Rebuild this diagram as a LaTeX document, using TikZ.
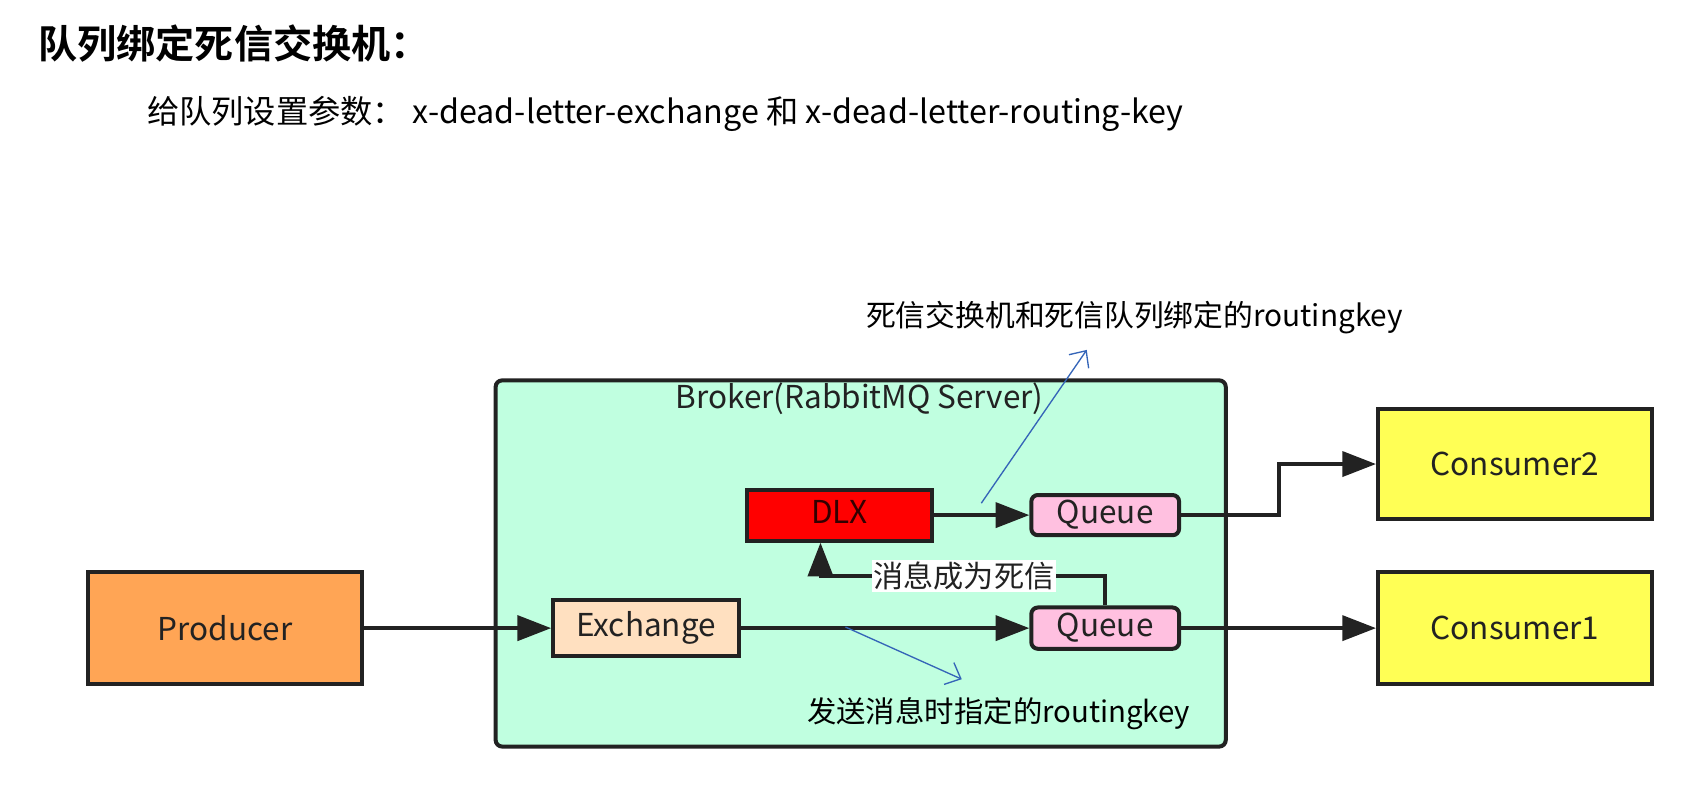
\documentclass[tikz,border=0pt]{standalone}
\usepackage{fontspec}
\setmainfont{Noto Sans CJK SC}[BoldFont={Noto Sans CJK SC Bold}]
\usetikzlibrary{arrows.meta}
\definecolor{mint}{HTML}{C0FFE0}
\definecolor{linec}{HTML}{222222}
\definecolor{qpink}{HTML}{FFC0E0}
\definecolor{peach}{HTML}{FFE0C0}
\definecolor{orng}{HTML}{FFA555}
\definecolor{yell}{HTML}{FFFF55}
\definecolor{dlxred}{HTML}{FF0000}
\definecolor{annblue}{HTML}{3565B8}
\definecolor{txtc}{HTML}{222222}
\tikzset{
  box/.style={draw=linec, line width=2.1pt, inner sep=0pt, text=txtc, font=\fontsize{16.5}{19}\selectfont},
  arr/.style={draw=linec, line width=2pt, -{Triangle[length=0.62cm,width=0.46cm]}},
  ann/.style={draw=annblue, line width=0.7pt, -{Straight Barb[length=0.24cm,width=0.44cm]}},
  anntext/.style={text=black, inner sep=0pt}
}
\begin{document}
\begin{tikzpicture}[x=0.02cm,y=-0.02cm]
\useasboundingbox (0,0) rectangle (1568,729);
% headings
\node[anchor=west, inner sep=0pt, font=\fontsize{20.5}{24}\selectfont\bfseries] (title) at (35,40) {队列绑定死信交换机：};
\node[anchor=west, inner sep=0pt, font=\fontsize{16.9}{20}\selectfont] (sub) at (135,105) {给队列设置参数： x-dead-letter-exchange 和 x-dead-letter-routing-key};
% broker
\node[box, fill=mint, rounded corners=0.12cm, minimum width=13.44cm, minimum height=6.74cm] (broker) at (792,518.5) {};
\node[anchor=center, inner sep=0pt, text=txtc, font=\fontsize{16.5}{19}\selectfont] (blabel) at (791,367) {Broker(RabbitMQ Server)};
% nodes
\node[box, fill=dlxred, text=black!80!red, minimum width=3.42cm, minimum height=0.94cm] (dlx) at (772.5,474) {\raisebox{0.1cm}{DLX}};
\node[box, fill=qpink, rounded corners=0.12cm, minimum width=2.72cm, minimum height=0.74cm] (q1) at (1017,474) {Queue};
\node[box, fill=qpink, rounded corners=0.12cm, minimum width=2.72cm, minimum height=0.76cm] (q2) at (1017,578) {Queue};
\node[box, fill=peach, minimum width=3.42cm, minimum height=1.04cm] (ex) at (594.5,578) {\raisebox{0.08cm}{Exchange}};
\node[box, fill=orng, minimum width=5.04cm, minimum height=2.06cm] (prod) at (207,578) {Producer};
\node[box, fill=yell, minimum width=5.04cm, minimum height=2.04cm] (c2) at (1394,427) {Consumer2};
\node[box, fill=yell, minimum width=5.04cm, minimum height=2.06cm] (c1) at (1394,578) {Consumer1};
% connectors
\draw[arr] (prod.east) -- (ex.west);
\draw[arr] (ex.east) -- (q2.west);
\draw[arr] (q2.east) -- (c1.west);
\draw[arr] (dlx.east) -- (q1.west);
\coordinate (mid2) at (1177,474);
\draw[arr] (q1.east) -- (mid2) |- (c2.west);
\coordinate (bend) at (755,530);
\draw[arr] (q2.north) |- (bend) -- (bend |- dlx.south);
\node[fill=white, inner sep=1pt, text=txtc, font=\fontsize{15.8}{18}\selectfont] (dead) at (887,530) {消息成为死信};
% annotations
\coordinate (a1s) at (903,463);
\coordinate (a1e) at (1000,322);
\coordinate (a2s) at (778,577);
\coordinate (a2e) at (885,625);
\draw[ann] (a1s) -- (a1e);
\draw[ann] (a2s) -- (a2e);
\node[anchor=center, anntext, font=\fontsize{15.6}{18}\selectfont] (t1) at (1044,292) {死信交换机和死信队列绑定的routingkey};
\node[anchor=center, anntext, font=\fontsize{15.4}{18}\selectfont] (t2) at (919,657) {发送消息时指定的routingkey};
\end{tikzpicture}
\end{document}
